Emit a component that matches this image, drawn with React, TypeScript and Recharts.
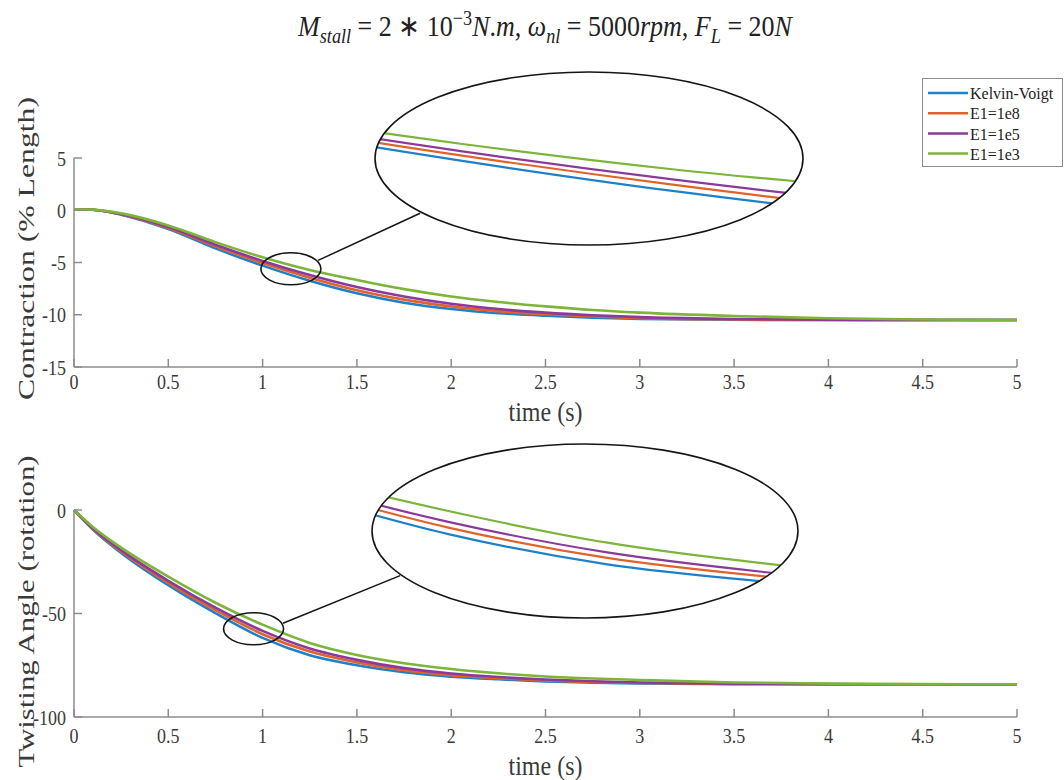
import { LineChart, Line, XAxis, YAxis, ReferenceDot, ReferenceLine } from "recharts";

// time axis (s)
const time = [0, 0.1, 0.25, 0.5, 0.75, 1, 1.25, 1.5, 1.75, 2, 2.25, 2.5, 2.75, 3, 3.5, 4, 4.5, 5];

// contraction (% length)
const contractionKV = [0.1, 0.05, -0.42, -1.8, -3.65, -5.3, -6.75, -7.95, -8.85, -9.45, -9.85, -10.1, -10.28, -10.4, -10.48, -10.5, -10.5, -10.5];
const contractionE8 = [0.1, 0.05, -0.4, -1.7, -3.45, -5.05, -6.45, -7.65, -8.55, -9.2, -9.65, -9.95, -10.17, -10.32, -10.45, -10.5, -10.5, -10.5];
const contractionE5 = [0.1, 0.05, -0.38, -1.6, -3.3, -4.85, -6.2, -7.35, -8.25, -8.95, -9.45, -9.8, -10.05, -10.23, -10.4, -10.48, -10.5, -10.5];
const contractionE3 = [0.1, 0.06, -0.3, -1.45, -3.05, -4.5, -5.72, -6.68, -7.55, -8.25, -8.78, -9.2, -9.55, -9.8, -10.12, -10.33, -10.45, -10.5];

// twisting angle (rotation)
const twistKV = [0, -9.4, -20.7, -36.3, -49.8, -61.8, -70.2, -75.0, -78.4, -80.5, -81.8, -82.8, -83.4, -83.8, -84.1, -84.2, -84.2, -84.2];
const twistE8 = [0, -9.1, -20.0, -35.2, -48.4, -60.0, -68.4, -73.6, -77.4, -79.8, -81.3, -82.4, -83.1, -83.6, -84.0, -84.2, -84.2, -84.2];
const twistE5 = [0, -8.8, -19.4, -34.2, -47.2, -58.4, -66.9, -72.4, -76.4, -79.0, -80.7, -81.9, -82.7, -83.3, -83.9, -84.1, -84.2, -84.2];
const twistE3 = [0, -8.2, -18.2, -32.2, -44.8, -55.4, -64.2, -70.0, -74.0, -76.8, -78.9, -80.4, -81.4, -82.1, -83.3, -83.9, -84.1, -84.2];

const xTicks = [0, 0.5, 1, 1.5, 2, 2.5, 3, 3.5, 4, 4.5, 5];
const contractionTicks = [-15, -10, -5, 0, 5];
const twistTicks = [-100, -50, 0];

const seriesNames = ["Kelvin-Voigt", "E1=1e8", "E1=1e5", "E1=1e3"];
const seriesKeys = ["kv", "e8", "e5", "e3"];
const COLORS = ["#1f80c8", "#e0632c", "#8a3a9a", "#7db43a"];

const FONT = '"Liberation Serif", "Times New Roman", serif';
const AXIS = "#8c8c8c";
const TEXT = "#3a3a3a";

const contractionRows = time.map((t, i) => ({
  t,
  kv: contractionKV[i],
  e8: contractionE8[i],
  e5: contractionE5[i],
  e3: contractionE3[i],
}));

const twistRows = time.map((t, i) => ({
  t,
  kv: twistKV[i],
  e8: twistE8[i],
  e5: twistE5[i],
  e3: twistE3[i],
}));

const makeXTick = (gap: number) => (props: any) => {
  const { x, y, payload } = props;
  return (
    <g>
      <line x1={x} y1={y} x2={x} y2={y - 8} stroke={AXIS} strokeWidth={1.5} />
      <text
        transform={`translate(${x},${y + gap}) scale(1,1.2)`}
        textAnchor="middle"
        fontFamily={FONT}
        fontSize={18}
        fill={TEXT}
      >
        {String(payload.value)}
      </text>
    </g>
  );
};

const YTick = (props: any) => {
  const { x, y, payload } = props;
  return (
    <g>
      <line x1={x} y1={y} x2={x + 8} y2={y} stroke={AXIS} strokeWidth={1.5} />
      <text
        transform={`translate(${x - 8},${y}) scale(1,1.2)`}
        textAnchor="end"
        dy="0.35em"
        fontFamily={FONT}
        fontSize={18}
        fill={TEXT}
      >
        {String(payload.value)}
      </text>
    </g>
  );
};

const xLabel = (gap: number) => (p: any) => {
  const vb = p.viewBox;
  return (
    <text
      transform={`translate(${vb.x + vb.width / 2},${vb.y + gap}) scale(1,1.15)`}
      textAnchor="middle"
      fontFamily={FONT}
      fontSize={24}
      fill={TEXT}
    >
      time (s)
    </text>
  );
};

const yLabel = (text: string, len: number, shift: number) => (p: any) => {
  const vb = p.viewBox;
  return (
    <text
      transform={`translate(${vb.x + 12},${vb.y + vb.height / 2 + shift}) rotate(-90)`}
      textAnchor="middle"
      dominantBaseline="central"
      fontFamily={FONT}
      fontSize={23}
      fill={TEXT}
      textLength={len}
      lengthAdjust="spacingAndGlyphs"
    >
      {text}
    </text>
  );
};

const smallEllipse = (p: any) => (
  <ellipse cx={p.cx} cy={p.cy} rx={30} ry={16} fill="none" stroke="#151515" strokeWidth={1.6} />
);

const seriesLines = (width: number) =>
  seriesKeys.map((k, i) => (
    <Line
      key={k}
      type="monotone"
      dataKey={k}
      stroke={COLORS[i]}
      strokeWidth={width}
      dot={false}
      isAnimationActive={false}
    />
  ));

// magnified view shown inside the big ellipse
const Inset = ({
  rows,
  left,
  top,
  width,
  height,
  xDomain,
  yDomain,
}: {
  rows: any[];
  left: number;
  top: number;
  width: number;
  height: number;
  xDomain: [number, number];
  yDomain: [number, number];
}) => (
  <div style={{ position: "absolute", left, top, width, height }}>
    <div style={{ position: "absolute", inset: 0, clipPath: "ellipse(50% 50% at 50% 50%)" }}>
      <LineChart width={width} height={height} data={rows} margin={{ top: 0, right: 0, bottom: 0, left: 0 }}>
        <XAxis dataKey="t" type="number" domain={xDomain} allowDataOverflow hide />
        <YAxis type="number" domain={yDomain} allowDataOverflow hide />
        {seriesLines(2.2)}
      </LineChart>
    </div>
    <svg width={width + 4} height={height + 4} style={{ position: "absolute", left: -2, top: -2, overflow: "visible" }}>
      <ellipse
        cx={width / 2 + 2}
        cy={height / 2 + 2}
        rx={width / 2}
        ry={height / 2}
        fill="none"
        stroke="#151515"
        strokeWidth={1.6}
      />
    </svg>
  </div>
);

const Legend = () => (
  <div
    style={{
      position: "absolute",
      left: 922,
      top: 78,
      width: 141,
      height: 89,
      border: "1px solid #8c8c8c",
      background: "#fff",
      boxSizing: "border-box",
    }}
  >
    <svg width={141} height={89}>
      {seriesNames.map((name, i) => (
        <g key={name}>
          <line x1={5} x2={45} y1={14 + i * 20.2} y2={14 + i * 20.2} stroke={COLORS[i]} strokeWidth={2.5} />
          <text
            transform={`translate(47,${14 + i * 20.2}) scale(1,1.1)`}
            dy="0.35em"
            fontFamily={FONT}
            fontSize={16}
            fill="#222"
          >
            {name}
          </text>
        </g>
      ))}
    </svg>
  </div>
);

export default function App() {
  return (
    <div style={{ position: "absolute", left: 0, top: 0, width: 1064, height: 780, background: "#fff", overflow: "hidden" }}>
      <div
        style={{
          position: "absolute",
          left: 0,
          top: 9,
          width: 1090,
          textAlign: "center",
          fontFamily: FONT,
          fontSize: 26,
          color: "#222",
          transform: "scaleY(1.15)",
          whiteSpace: "nowrap",
        }}
      >
        <i>M</i>
        <sub style={{ fontSize: "0.7em" }}>
          <i>stall</i>
        </sub>{" "}
        = 2 ∗ 10<sup style={{ fontSize: "0.7em" }}>−3</sup>
        <i>N</i>.<i>m</i>, <i>ω</i>
        <sub style={{ fontSize: "0.7em" }}>
          <i>nl</i>
        </sub>{" "}
        = 5000<i>rpm</i>, <i>F</i>
        <sub style={{ fontSize: "0.7em" }}>
          <i>L</i>
        </sub>{" "}
        = 20<i>N</i>
      </div>

      <div style={{ position: "absolute", left: 0, top: 0 }}>
        <LineChart width={1064} height={430} data={contractionRows} margin={{ top: 158, right: 47, bottom: 13, left: 14 }}>
          <XAxis
            dataKey="t"
            type="number"
            domain={[0, 5]}
            ticks={xTicks}
            height={50}
            tickSize={0}
            tickMargin={0}
            tickLine={false}
            tick={makeXTick(22)}
            axisLine={{ stroke: AXIS, strokeWidth: 1.5 }}
            label={xLabel(54)}
          />
          <YAxis
            type="number"
            domain={[-15, 5]}
            ticks={contractionTicks}
            width={60}
            tickSize={0}
            tickMargin={0}
            tickLine={false}
            tick={YTick}
            axisLine={{ stroke: AXIS, strokeWidth: 1.5 }}
            label={yLabel("Contraction (% Length)", 303, -14)}
          />
          {seriesLines(2.6)}
          <ReferenceDot x={1.15} y={-5.6} r={1} ifOverflow="visible" shape={smallEllipse} />
          <ReferenceLine
            segment={[
              { x: 1.294, y: -4.8 },
              { x: 1.835, y: -0.29 },
            ]}
            stroke="#151515"
            strokeWidth={1.5}
            ifOverflow="visible"
          />
        </LineChart>
      </div>

      <div style={{ position: "absolute", left: 0, top: 430 }}>
        <LineChart width={1064} height={350} data={twistRows} margin={{ top: 80, right: 47, bottom: 13, left: 14 }}>
          <XAxis
            dataKey="t"
            type="number"
            domain={[0, 5]}
            ticks={xTicks}
            height={50}
            tickSize={0}
            tickMargin={0}
            tickLine={false}
            tick={makeXTick(26)}
            axisLine={{ stroke: AXIS, strokeWidth: 1.5 }}
            label={xLabel(58)}
          />
          <YAxis
            type="number"
            domain={[-100, 0]}
            ticks={twistTicks}
            width={60}
            tickSize={0}
            tickMargin={0}
            tickLine={false}
            tick={YTick}
            axisLine={{ stroke: AXIS, strokeWidth: 1.5 }}
            label={yLabel("Twisting Angle (rotation)", 312, -2)}
          />
          {seriesLines(2.6)}
          <ReferenceDot x={0.952} y={-57.4} r={1} ifOverflow="visible" shape={smallEllipse} />
          <ReferenceLine
            segment={[
              { x: 1.108, y: -54.7 },
              { x: 1.729, y: -31.7 },
            ]}
            stroke="#151515"
            strokeWidth={1.5}
            ifOverflow="visible"
          />
        </LineChart>
      </div>

      <Inset rows={contractionRows} left={375} top={72} width={428} height={173} xDomain={[0.9, 1.4]} yDomain={[-9.3, -1.1]} />
      <Inset rows={twistRows} left={372} top={444} width={426} height={174} xDomain={[0.88, 1.55]} yDomain={[-85.1, -36.8]} />

      <Legend />
    </div>
  );
}
